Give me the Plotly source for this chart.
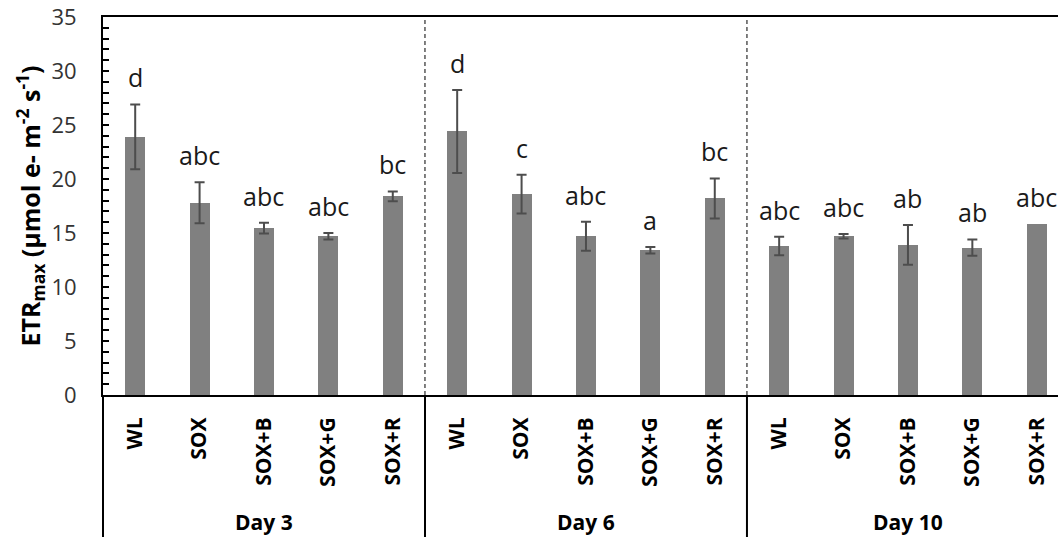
import plotly.graph_objects as go

days = ["Day 3", "Day 6", "Day 10"]
treatments = ["WL", "SOX", "SOX+B", "SOX+G", "SOX+R"]

etr_day3 = [23.9, 17.8, 15.45, 14.7, 18.4]
etr_day6 = [24.4, 18.6, 14.7, 13.4, 18.2]
etr_day10 = [13.8, 14.7, 13.9, 13.65, 15.8]

err_day3 = [3.0, 1.9, 0.5, 0.3, 0.45]
err_day6 = [3.85, 1.8, 1.35, 0.3, 1.85]
err_day10 = [0.85, 0.2, 1.85, 0.75, None]

letters_day3 = ["d", "abc", "abc", "abc", "bc"]
letters_day6 = ["d", "c", "abc", "a", "bc"]
letters_day10 = ["abc", "abc", "ab", "ab", "abc"]

y_ticks = [0, 5, 10, 15, 20, 25, 30, 35]

values = etr_day3 + etr_day6 + etr_day10
errors = err_day3 + err_day6 + err_day10
letters = letters_day3 + letters_day6 + letters_day10
labels = treatments * len(days)
xpos = list(range(len(values)))
n = len(treatments)

FONT = "Open Sans"

fig = go.Figure()
fig.add_trace(go.Bar(
    x=xpos, y=values, width=0.31,
    marker=dict(color="#808080", line=dict(width=0)),
    showlegend=False,
))
ex = [x for x, e in zip(xpos, errors) if e is not None]
ey = [v for v, e in zip(values, errors) if e is not None]
ee = [e for e in errors if e is not None]
fig.add_trace(go.Scatter(
    x=ex, y=ey, mode="markers", marker=dict(size=1, opacity=0),
    error_y=dict(type="data", array=ee, visible=True,
                 color="#4d4d4d", thickness=2, width=5),
    showlegend=False, hoverinfo="skip",
))

for x, v, e, t in zip(xpos, values, errors, letters):
    top = v + (e or 0)
    fig.add_annotation(x=x, y=top, xref="x", yref="y", text=t, showarrow=False,
                       yanchor="bottom", yshift=8,
                       font=dict(family=FONT, size=25, color="#1a1a1a"))

shapes = []
for g in range(1, len(days)):
    b = g * n - 0.5
    shapes.append(dict(type="line", xref="x", yref="paper", x0=b, x1=b, y0=0, y1=1,
                       line=dict(color="black", width=1, dash="4px,3px")))
    shapes.append(dict(type="line", xref="x", yref="paper", x0=b, x1=b, y0=0, y1=-0.45,
                       line=dict(color="black", width=2)))
shapes.append(dict(type="line", xref="paper", yref="paper", x0=0, x1=0, y0=0, y1=-0.45,
                   line=dict(color="black", width=2)))

for g, d in enumerate(days):
    fig.add_annotation(x=g * n + (n - 1) / 2, y=0, xref="x", yref="paper", text=f"<b>{d}</b>",
                       showarrow=False, yanchor="middle", yshift=-127,
                       font=dict(family=FONT, size=21, color="black"))

fig.update_layout(
    width=1058, height=537,
    margin=dict(l=103, r=0, t=17, b=142),
    paper_bgcolor="white", plot_bgcolor="white",
    shapes=shapes,
    bargap=0,
)
fig.update_xaxes(
    range=[-0.5, 14.33], tickvals=xpos, ticktext=[f"<b>{l}</b>" for l in labels],
    tickangle=-90, ticks="", ticklabelstandoff=12,
    tickfont=dict(family=FONT, size=21, color="black"),
    showline=True, linecolor="black", linewidth=2, mirror=True,
    showgrid=False, zeroline=False,
)
fig.update_yaxes(
    range=[0, 35], tickvals=y_ticks, ticks="inside", ticklen=6, tickwidth=1.5, tickcolor="black",
    minor=dict(dtick=1, ticks="inside", ticklen=6, tickwidth=1.5, tickcolor="black"),
    tickfont=dict(family=FONT, size=22, color="#333333"), ticklabelstandoff=20,
    showline=True, linecolor="black", linewidth=2, mirror=False,
    showgrid=False, zeroline=False,
    title=dict(text="<b>ETR<sub>max</sub> (µmol e- m<sup>-2</sup> s<sup>-1</sup>)</b>",
               font=dict(family=FONT, size=25, color="black"), standoff=4),
)

fig.write_html("out.html")
